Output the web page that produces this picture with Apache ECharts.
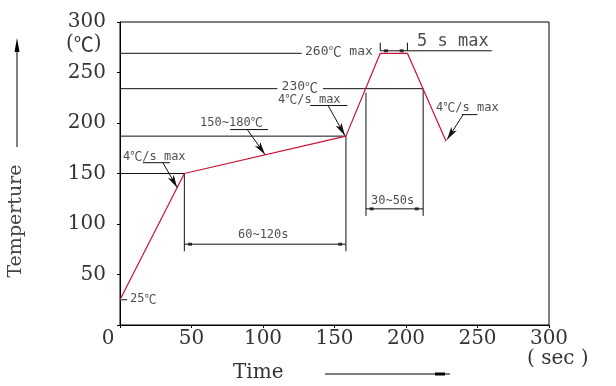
<!DOCTYPE html>
<html><head><meta charset="utf-8">
<script src="https://cdn.jsdelivr.net/npm/echarts@6/dist/echarts.min.js"></script>
<style>html,body{margin:0;padding:0;background:#fff}#c{width:616px;height:386px}</style>
</head><body><div id="c"></div>
<script>
// ---- data (time in s, temperature in ℃) ----
const xTicks = [0, 50, 100, 150, 200, 250, 300];
const yTicks = [50, 100, 150, 200, 250, 300];
const profile = [[0,25],[45,150],[158,187],[182,269],[201,269],[228,182]];
const guideLines = [
  [[0,150],[45,150]], [[0,187],[158,187]],
  [[0,234],[110,234]], [[142,234],[212,234]],
  [[0,269],[127,269]],
  [[45,150],[45,73]], [[158,187],[158,73]],
  [[172,230],[172,108]], [[212,234],[212,108]],
  [[182,279.5],[182,271.5]], [[201,279.5],[201,271.5]],
  [[1,25],[5,25]]
];
const dimLines = [ [[182,271.5],[260,271.5]], [[45,80],[158,80]], [[172,115],[212,115]] ];
const dimMarks = [[186,271.5],[197,271.5],[49,80],[154,80],[176,115],[207.5,115]];
const underLines = [ [[16,160.7],[35,160.7]], [[77,193.5],[103.5,193.5]], [[133,217.3],[159,217.3]], [[239,208.3],[250,208.3]] ];
const leaders = [ [[30,160.7],[40,136]], [[89,193.5],[101.4,168.7]], [[145.5,217.3],[157.3,187.5]], [[240,208.3],[228.7,183.5]] ];
const notes = [
  {at:[129.4,270.8], text:'260℃ max', kind:'m'},
  {at:[207.7,280.7], text:'5 s max', kind:'l'},
  {at:[113,236], text:'230℃', kind:'m'},
  {at:[110.5,223.2], text:'4℃/s max', kind:'s'},
  {at:[56,200.4], text:'150~180℃', kind:'s'},
  {at:[2.1,166.7], text:'4℃/s max', kind:'s'},
  {at:[221,215.3], text:'4℃/s max', kind:'s'},
  {at:[82.5,89.3], text:'60~120s', kind:'s'},
  {at:[175.5,123.3], text:'30~50s', kind:'s'},
  {at:[7,25.5], text:'25℃', kind:'s'}
];

// ---- styles ----
const INK = '#111';
const RED = '#cc1036';
const MONO = '"DejaVu Sans Mono", "Liberation Mono", monospace';
const SERIF = '"DejaVu Serif", serif';
const CJK = '"Noto Sans CJK SC", sans-serif';
const sizes = {s:12, m:13, l:17};

const series = [];
function seg(pts, color, w){
  series.push({type:'line', data:pts, symbol:'none', silent:true, animation:false,
    lineStyle:{color:color, width:w}, z:3});
}
guideLines.forEach(p=>seg(p, INK, 1));
dimLines.forEach(p=>seg(p, INK, 1));
underLines.forEach(p=>seg(p, INK, 1));
seg(profile, RED, 1.2);
series.push({type:'scatter', data:dimMarks, symbol:'rect', symbolSize:[4,3], silent:true, animation:false,
  itemStyle:{color:INK}, z:4});
series.push({type:'line', data:[], silent:true, animation:false,
  markLine:{silent:true, animation:false, symbol:['none','arrow'], symbolSize:[5,13],
    label:{show:false}, lineStyle:{color:INK, width:1, type:'solid'},
    data: leaders.map(l=>[{coord:l[0]},{coord:l[1]}])}});
series.push({type:'scatter', symbolSize:0, silent:true, animation:false, clip:false, z:5,
  data: notes.map(n=>{
    const fs = sizes[n.kind];
    return {value:n.at, label:{show:true, position:'right', distance:0,
      formatter:n.text.replace(/℃/g,'{c|℃}'), color:'#222', fontFamily:MONO, fontSize:fs,
      rich:{c:{fontFamily:CJK, fontSize:fs, color:'#222'}}}};
  })});

const chart = echarts.init(document.getElementById('c'), null, {renderer:'canvas'});
chart.setOption({
  backgroundColor:'#fff',
  animation:false,
  grid:{left:120, right:67, top:22, bottom:61, show:true, borderColor:'#000', borderWidth:1, backgroundColor:'transparent'},
  xAxis:{type:'value', min:xTicks[0], max:xTicks[xTicks.length-1], interval:50,
    axisLine:{lineStyle:{color:'#000'}}, splitLine:{show:false},
    axisTick:{show:true, length:3, lineStyle:{color:'#000'}},
    axisLabel:{margin:4, color:'#333', fontFamily:SERIF, fontSize:20,
      formatter:v=> v===0 ? '{z|0}' : String(v),
      rich:{z:{padding:[0,24,0,0], color:'#333', fontFamily:SERIF, fontSize:20}}}},
  yAxis:{type:'value', min:0, max:300, interval:50,
    axisLine:{show:true, lineStyle:{color:'#000'}}, splitLine:{show:false},
    axisTick:{show:true, length:3, lineStyle:{color:'#000'}},
    axisLabel:{margin:14, color:'#333', fontFamily:SERIF, fontSize:20,
      formatter:v=> yTicks.includes(v) ? String(v) : ''}},
  graphic:[
    {type:'text', left:66, top:34, style:{text:'({c|℃})', font:'20px '+SERIF, fill:'#333',
      rich:{c:{font:'20px '+CJK, fill:'#333'}}}},
    {type:'text', left:527, top:349, style:{text:'( sec )', font:'20px '+SERIF, fill:'#333'}},
    {type:'text', left:233, top:363, style:{text:'Time', font:'20px '+SERIF, fill:'#333'}},
    {type:'text', x:16, y:221, rotation:Math.PI/2,
      style:{text:'Temperture', font:'19px '+SERIF, fill:'#444', align:'center', verticalAlign:'middle'}},
    {type:'line', shape:{x1:17, y1:147, x2:17, y2:48}, style:{stroke:'#000', lineWidth:1}},
    {type:'polygon', shape:{points:[[17,38],[14.5,52],[19.5,52]]}, style:{fill:'#000'}},
    {type:'line', shape:{x1:325, y1:374, x2:450, y2:374}, style:{stroke:'#000', lineWidth:1}},
    {type:'rect', shape:{x:435, y:372.5, width:10, height:3}, style:{fill:'#000'}}
  ],
  series: series
});
</script></body></html>
